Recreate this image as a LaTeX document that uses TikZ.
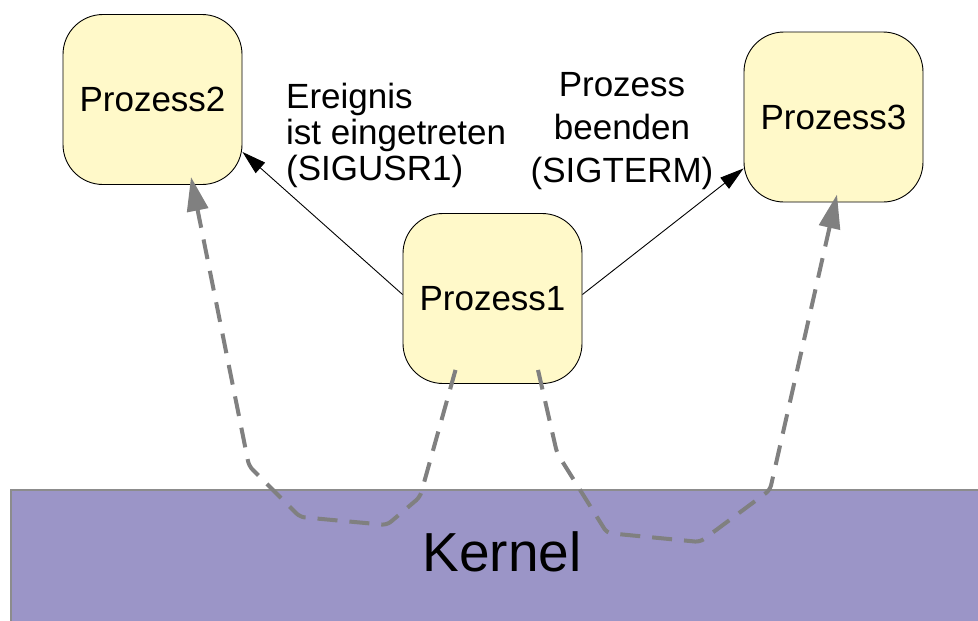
\documentclass[tikz,border=0pt]{standalone}
\usepackage{fontspec}
\setmainfont{Liberation Sans}
\usetikzlibrary{arrows.meta,calc}
\definecolor{boxfill}{RGB}{255,249,201}
\definecolor{kernelfill}{RGB}{155,149,199}
\definecolor{kernelline}{RGB}{140,140,140}
\definecolor{siggray}{RGB}{128,128,128}
\tikzset{
  proc/.style={draw=black, line width=0.9pt, fill=boxfill, rounded corners=40pt,
    minimum width=179pt, minimum height=170pt, inner sep=0pt,
    font=\fontsize{35}{40}\selectfont},
  lbl/.style={inner sep=0pt, font=\fontsize{35}{36}\selectfont},
  sendarrow/.style={draw=black, line width=0.9pt, -{Triangle[length=24pt,width=14pt]}},
  kernarrow/.style={draw=siggray, line width=4pt, dash pattern=on 20pt off 12pt,
    rounded corners=5pt, -{Triangle[length=34pt,width=21pt]}}
}
\begin{document}
\begin{tikzpicture}[x=1pt,y=-1pt]
\useasboundingbox (0,0) rectangle (978,621);
% kernel
\fill[kernelfill] (11,490) rectangle (1000,640);
\draw[kernelline, line width=1.6pt] (11,640) -- (11,490) -- (1000,490);
\node[inner sep=0pt, font=\fontsize{55}{60}\selectfont] (kernel) at (502,552) {Kernel};
% processes
\node[proc] (p2) at (152.5,99.5) {Prozess2};
\node[proc] (p1) at (492.5,298.5) {Prozess1};
\node[proc] (p3) at (833.5,117) {Prozess3};
% labels
\node[lbl, align=left, anchor=north west] (l1) at (286,83) {Ereignis\\ist eingetreten\\(SIGUSR1)};
\node[lbl, align=center, anchor=north, font=\fontsize{35}{43}\selectfont] (l2) at (622,72) {Prozess\\beenden\\(SIGTERM)};
% signal arrows
\draw[sendarrow] ($(p1.west)+(0,-4)$) -- ($(p2.south east)+(0,-33)$);
\draw[sendarrow] ($(p1.east)+(0,-4)$) -- ($(p3.south west)+(0,-34)$);
% kernel paths
\draw[kernarrow] ($(p1.south)+(-37,-14)$) -- (420,497) -- (387,525) -- (300,517) -- (249,466) -- ($(p2.south)+(38.5,-8)$);
\draw[kernarrow] ($(p1.south)+(45.5,-14)$) -- (557,453) -- (607,533) -- (700,542) -- (770,490) -- ($(p3.south)+(3.5,-8)$);
\end{tikzpicture}
\end{document}
